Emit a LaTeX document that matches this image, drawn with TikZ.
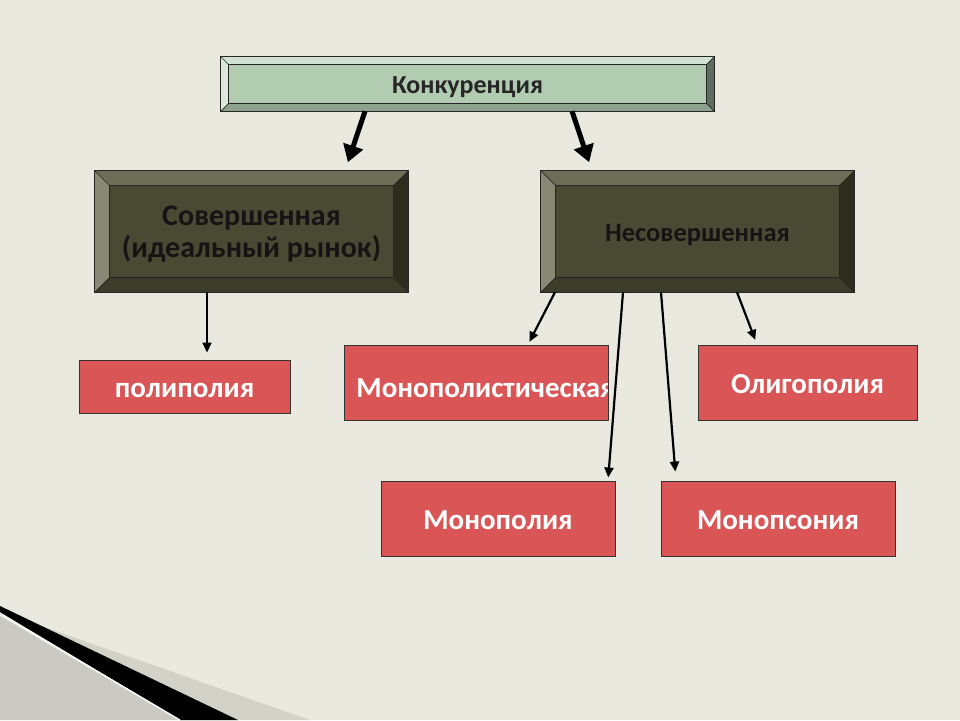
\documentclass[tikz,border=0pt]{standalone}
\usepackage{fontspec}
\setmainfont{Carlito}
\usetikzlibrary{arrows.meta}
\definecolor{bgcol}{HTML}{E9E9DF}
\definecolor{mintfill}{HTML}{B2CCB2}
\definecolor{mintlight}{HTML}{D2E2D2}
\definecolor{mintside}{HTML}{DCE8DC}
\definecolor{mintdark}{HTML}{5E6E5E}
\definecolor{mintlow}{HTML}{8CA28C}
\definecolor{olivefill}{HTML}{4A4A34}
\definecolor{olivetop}{HTML}{6E6E58}
\definecolor{oliveleft}{HTML}{888874}
\definecolor{oliveright}{HTML}{2D2D1E}
\definecolor{olivelow}{HTML}{3C3C2A}
\definecolor{redfill}{HTML}{DA5555}
\definecolor{shadegray}{HTML}{D2D2C8}
\definecolor{cornergray}{HTML}{CACAC2}

\newcommand{\bevelframe}[6]{%
  \fill[#3] (#1.north west) -- (#1.north east) -- ([xshift=-#2,yshift=-#2]#1.north east) -- ([xshift=#2,yshift=-#2]#1.north west) -- cycle;
  \fill[#4] (#1.north west) -- ([xshift=#2,yshift=-#2]#1.north west) -- ([xshift=#2,yshift=#2]#1.south west) -- (#1.south west) -- cycle;
  \fill[#5] (#1.north east) -- ([xshift=-#2,yshift=-#2]#1.north east) -- ([xshift=-#2,yshift=#2]#1.south east) -- (#1.south east) -- cycle;
  \fill[#6] (#1.south west) -- ([xshift=#2,yshift=#2]#1.south west) -- ([xshift=-#2,yshift=#2]#1.south east) -- (#1.south east) -- cycle;
  \draw[black!85, line width=0.7pt] (#1.north west) -- ([xshift=#2,yshift=-#2]#1.north west)
    (#1.north east) -- ([xshift=-#2,yshift=-#2]#1.north east)
    (#1.south west) -- ([xshift=#2,yshift=#2]#1.south west)
    (#1.south east) -- ([xshift=-#2,yshift=#2]#1.south east);
  \draw[black!85, line width=0.8pt] ([xshift=#2,yshift=-#2]#1.north west) rectangle ([xshift=-#2,yshift=#2]#1.south east);
  \draw[black!85, line width=1.2pt] (#1.north west) rectangle (#1.south east);
}

\begin{document}
\begin{tikzpicture}[x=1pt, y=-1pt,
    topbox/.style={fill=mintfill, minimum width=493pt, minimum height=54pt, inner sep=0pt,
      text height=20pt, text depth=2pt,
      text=black!85, font=\bfseries\fontsize{26}{30}\selectfont},
    darkbox/.style={fill=olivefill, minimum width=313pt, minimum height=121pt, inner sep=0pt,
      text=black!92, align=center, font=\bfseries\fontsize{30}{32}\selectfont},
    redbox/.style={draw=black!80, line width=1pt, fill=redfill, inner sep=0pt,
      text height=24pt, text depth=2pt,
      text=white, font=\bfseries\fontsize{29}{32}\selectfont},
    bigarrow/.style={line width=5pt, -{Triangle[width=20pt,length=17pt]}},
    thinarrow/.style={line width=2.2pt, -{Triangle[width=9pt,length=10pt]}}]
\useasboundingbox (0,0) rectangle (960,720);
\fill[bgcol] (0,0) rectangle (960,720);

\fill[shadegray] (30,622) -- (310,720) -- (180,720) -- cycle;
\fill[black] (0,606) -- (238,720) -- (180,720) -- (0,612) -- cycle;
\fill[cornergray] (0,616) -- (178,720) -- (0,720) -- cycle;
\draw[white, line width=1.2pt] (2,615) -- (180,720);

\node[topbox] (konk) at (467.5,84) {Конкуренция};
\bevelframe{konk}{8pt}{mintlight}{mintside}{mintdark}{mintlow}

\node[darkbox] (sov) at (251.5,231.5) {};
\bevelframe{sov}{15pt}{olivetop}{oliveleft}{oliveright}{olivelow}
\node[align=center, text=black!92, font=\bfseries\fontsize{30}{32}\selectfont] (sovtext) at ([yshift=-3pt]sov.center) {Совершенная\\(идеальный рынок)};
\node[darkbox, text height=21pt, text depth=2pt, font=\bfseries\fontsize{26.5}{30}\selectfont] (nesov) at (697.5,231.5) {Несовершенная};
\bevelframe{nesov}{15pt}{olivetop}{oliveleft}{oliveright}{olivelow}

\node[redbox, minimum width=211pt, minimum height=53pt] (polip) at (184.5,386.5) {полиполия};
\node[redbox, minimum width=264pt, minimum height=75pt,
  path picture={\node[anchor=west, inner sep=0pt, text=white, font=\bfseries\fontsize{29}{32}\selectfont]
    at ([xshift=9pt,yshift=-4pt]path picture bounding box.west) {Монополистическая};}] (monopl) at (476,382.5) {};
\node[redbox, minimum width=219pt, minimum height=75pt] (oligo) at (807.5,382.5) {Олигополия};
\node[redbox, minimum width=234pt, minimum height=75pt] (monop) at (498,518.5) {Монополия};
\node[redbox, minimum width=234pt, minimum height=75pt] (monops) at (778,518.5) {Монопсония};

\draw[bigarrow, shorten >=9pt] ([xshift=-102.5pt]konk.south) -- ([xshift=93.5pt]sov.north);
\draw[bigarrow, shorten >=9pt] ([xshift=104.5pt]konk.south) -- ([xshift=-105.5pt]nesov.north);
\draw[thinarrow, shorten >=7pt] ([xshift=-44.5pt]sov.south) -- ([xshift=22.5pt]polip.north);
\draw[thinarrow, shorten >=3pt] ([xshift=-142.5pt]nesov.south) -- ([xshift=52pt]monopl.north);
\draw[thinarrow, shorten >=3pt] ([xshift=-74.5pt]nesov.south) -- ([xshift=110pt]monop.north);
\draw[thinarrow, shorten >=9pt] ([xshift=-36.5pt]nesov.south) -- ([xshift=-102pt]monops.north);
\draw[thinarrow, shorten >=5pt] ([xshift=39.5pt]nesov.south) -- ([xshift=-50.5pt]oligo.north);
\end{tikzpicture}
\end{document}
